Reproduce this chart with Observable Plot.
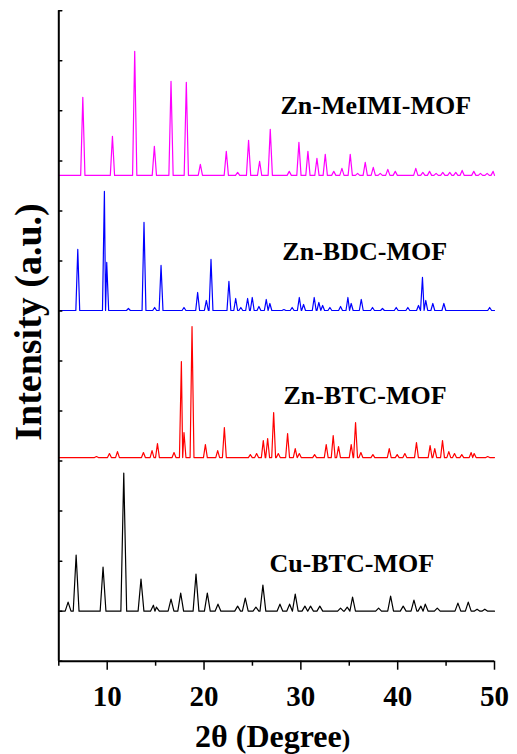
<!DOCTYPE html>
<html>
<head>
<meta charset="utf-8">
<script src="https://cdn.jsdelivr.net/npm/d3@7"></script>
<script src="https://cdn.jsdelivr.net/npm/@observablehq/plot@0.6"></script>
<style>
  html, body { margin: 0; padding: 0; background: #fff; }
  #chart { width: 517px; height: 754px; }
</style>
</head>
<body>
<div id="chart"></div>
<script>
// ---------- DATA ----------
// 2θ range and ticks
const xDomain = [5, 50];
const xMajorTicks = [10, 20, 30, 40, 50];
const xMinorTicks = [5, 15, 25, 35, 45];
const yDomain = [0, 1300];
const yTicks = [0, 100, 200, 300, 400, 500, 600, 700, 800, 900, 1000, 1100, 1200, 1300];

// series names (bottom to top) and baseline offsets (a.u.)
const seriesNames = ["Cu-BTC-MOF", "Zn-BTC-MOF", "Zn-BDC-MOF", "Zn-MeIMI-MOF"];
const seriesBaselines = [100, 407, 701, 971];

// peaks: [2θ, intensity above baseline (a.u.)]
const cuBtcPeaks = [
  [5.96,18],[6.79,112],[9.57,88],[11.71,276],[13.49,64],[14.77,12],[15.08,8],[16.59,24],
  [17.59,36],[19.17,74],[20.34,36],[21.44,14],[23.47,10],[24.26,26],[25.36,8],[26.08,52],
  [27.84,14],[28.84,14],[29.42,34],[30.42,10],[31.0,10],[31.96,10],[34.1,6],[34.79,8],
  [35.34,28],[38.03,6],[39.27,30],[40.57,10],[41.68,22],[42.4,10],[42.85,14],[44.09,6],
  [46.22,16],[47.29,18],[48.2,4],[49.0,4]
];
const znBtcPeaks = [
  [8.89,2],[10.23,8],[11.06,12],[13.74,10],[14.63,14],[15.19,28],[16.9,10],[17.66,192],
  [17.93,50],[18.76,262],[20.14,26],[21.41,14],[22.1,60],[24.78,6],[25.43,8],[26.12,34],
  [26.57,38],[27.19,90],[27.67,8],[28.63,48],[29.42,18],[29.84,8],[31.42,6],[32.62,26],
  [33.34,44],[33.89,22],[35.2,26],[35.65,70],[36.2,10],[37.44,6],[39.13,18],[39.95,6],
  [40.74,8],[41.94,30],[43.35,24],[43.83,18],[44.63,34],[45.28,12],[45.87,8],[46.62,6],
  [47.59,10],[47.9,8],[49.3,2]
];
const znBdcPeaks = [
  [6.96,122],[9.71,238],[9.95,96],[12.19,4],[13.8,176],[14.9,6],[15.56,90],[17.93,6],
  [19.34,36],[20.24,20],[20.72,102],[22.57,58],[23.27,24],[23.8,6],[24.5,24],[24.98,26],
  [25.67,8],[26.43,22],[26.8,14],[28.25,2],[29.1,6],[29.84,26],[30.28,12],[31.38,26],
  [31.86,16],[32.25,10],[33.0,6],[34.1,8],[34.86,26],[35.2,14],[36.24,22],[37.4,6],
  [38.43,4],[39.85,6],[41.05,6],[42.15,10],[42.56,66],[42.9,20],[43.63,14],[44.77,14],
  [49.5,6]
];
const znMeimiPeaks = [
  [7.48,156],[10.54,78],[12.84,248],[14.87,58],[16.59,188],[18.17,186],[19.62,22],[22.3,48],
  [23.47,6],[24.6,70],[25.74,28],[26.84,92],[28.8,8],[29.8,66],[30.73,48],[31.66,34],
  [32.52,42],[33.4,8],[34.24,14],[35.1,42],[35.86,4],[36.65,26],[37.48,16],[38.2,4],
  [38.98,12],[39.75,8],[41.87,14],[42.6,6],[43.29,8],[43.97,4],[44.66,6],[45.38,6],
  [46.0,6],[46.66,10],[47.86,8],[48.55,4],[49.24,4],[49.86,8]
];

// label anchor points in data coordinates: [2θ, a.u.]
const labelPositions = [[26.75,195],[28.2,531],[28.09,818],[27.89,1111]];

// ---------- STYLE ----------
const seriesColors = ["#000000", "#ff0000", "#0000ff", "#ff00ff"];
const peakHalfWidths = [0.3, 0.2, 0.2, 0.22];
const allPeaks = [cuBtcPeaks, znBtcPeaks, znBdcPeaks, znMeimiPeaks];

// build polyline vertices: baseline – apex – baseline for each read peak
const rows = [];
allPeaks.forEach((peaks, s) => {
  const name = seriesNames[s], base = seriesBaselines[s], w = peakHalfWidths[s];
  rows.push({series: name, x: xDomain[0], y: base});
  peaks.forEach(([px, h], i) => {
    const prev = i > 0 ? peaks[i - 1][0] : -Infinity;
    const next = i < peaks.length - 1 ? peaks[i + 1][0] : Infinity;
    rows.push({series: name, x: Math.max(px - w, (px + prev) / 2, xDomain[0]), y: base});
    rows.push({series: name, x: px, y: base + h});
    rows.push({series: name, x: Math.min(px + w, (px + next) / 2, xDomain[1]), y: base});
  });
  rows.push({series: name, x: xDomain[1], y: base});
});

const labels = seriesNames.map((n, i) => ({text: n, x: labelPositions[i][0], y: labelPositions[i][1]}));

const tickShape = {draw(context, l) { context.moveTo(0, 0); context.lineTo(0, -l); }};
const font = "'Liberation Serif', 'Times New Roman', Times, serif";

const chart = Plot.plot({
  width: 517,
  height: 754,
  marginLeft: 58.3,
  marginRight: 23,
  marginTop: 10.3,
  marginBottom: 93.3,
  style: {fontFamily: font, fontWeight: "bold", background: "#fff", color: "#000"},
  x: {domain: xDomain},
  y: {domain: yDomain, axis: null},
  color: {domain: seriesNames, range: seriesColors},
  marks: [
    Plot.line(rows, {x: "x", y: "y", z: "series", stroke: "series", strokeWidth: 1.2}),
    Plot.text(labels, {x: "x", y: "y", text: "text", textAnchor: "start", lineAnchor: "middle",
      fontSize: 26, fontWeight: "bold", fill: "#000"}),
    Plot.ruleX([xDomain[0]], {stroke: "#000", strokeWidth: 2}),
    Plot.ruleY([yDomain[0]], {stroke: "#000", strokeWidth: 2}),
    Plot.axisX(xMajorTicks, {tickSize: 9, tickPadding: 15, fontSize: 29, fontWeight: "bold",
      strokeWidth: 1.5, stroke: "#000", fill: "#000", label: null}),
    Plot.axisX(xMinorTicks, {tickSize: 5, tickFormat: () => "", strokeWidth: 1.5, stroke: "#000", label: null}),
    Plot.vector(yTicks, {x: xDomain[0], y: d => d, length: 3, rotate: 90, anchor: "start",
      shape: tickShape, stroke: "#000", strokeWidth: 1.5}),
    Plot.text(["Intensity (a.u.)"], {frameAnchor: "left", rotate: -90, dx: -29.5, dy: -14,
      fontSize: 38, fontWeight: "bold", fill: "#000", lineAnchor: "middle", textAnchor: "middle"}),
    Plot.text(["2θ (Degree)"], {frameAnchor: "bottom", dy: 76, dx: -4, lineAnchor: "middle",
      fontSize: 32, fontWeight: "bold", fill: "#000", textAnchor: "middle"})
  ]
});

// smaller closing parenthesis in the x-axis title, as in the reference
d3.select(chart).selectAll("text").each(function() {
  if (this.textContent === "2θ (Degree)") {
    const t = d3.select(this);
    t.text("2θ (Degree");
    t.append("tspan").attr("font-size", "0.8em").text(")");
  }
});

document.getElementById("chart").appendChild(chart);
</script>
</body>
</html>
